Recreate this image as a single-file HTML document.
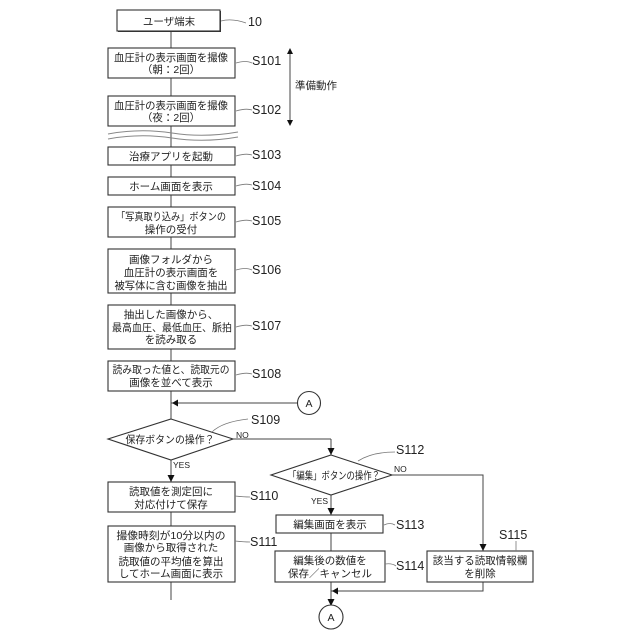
<!DOCTYPE html>
<html>
<head>
<meta charset="utf-8">
<style>
html,body{margin:0;padding:0;background:#fff}
svg{display:block;filter:blur(0.25px)}
text{font-family:"Liberation Sans","Noto Sans CJK JP",sans-serif;fill:#222}
.j{font-size:10.5px;text-anchor:middle}
.s{font-size:12.5px}
.y{font-size:8.5px}
.b{fill:#fff;stroke:#333;stroke-width:1.1}
.l{fill:none;stroke:#444;stroke-width:1}
.t{fill:none;stroke:#777;stroke-width:.8}
.h{fill:#111;stroke:none}
</style>
</head>
<body>
<svg width="640" height="640" viewBox="0 0 640 640" xmlns="http://www.w3.org/2000/svg">
<rect width="640" height="640" fill="#fff"/>

<path class="l" d="M171 31V600M331 439V455M331 495V515M331 533V551M331 582V606M233 439H331M392 475H483V551"/>
<path class="l" d="M483 582V591H331M171 403H298"/>
<path class="l" d="M290 50V124"/>

<path class="h" d="M290 48l-3 6h6zM290 126l-3-6h6z"/>
<path class="h" d="M172 403l6-3.500v7zM171 482l-3.500-7h7zM331 455l-3.500-7h7zM331 515l-3.500-7h7zM483 551l-3.500-7h7zM331 606l-3.500-7h7zM332 591l6-3.500v7z"/>

<rect x="118" y="11" width="103" height="21" fill="#333"/>
<rect class="b" x="117" y="10" width="103" height="21"/>
<rect class="b" x="108" y="48" width="127" height="30"/>
<rect class="b" x="108" y="96" width="127" height="30"/>
<rect class="b" x="108" y="147" width="127" height="18"/>
<rect class="b" x="108" y="177" width="127" height="18"/>
<rect class="b" x="108" y="207" width="127" height="30"/>
<rect class="b" x="108" y="249" width="127" height="44"/>
<rect class="b" x="108" y="305" width="127" height="44"/>
<rect class="b" x="108" y="361" width="127" height="30"/>
<rect class="b" x="108" y="482" width="127" height="30"/>
<rect class="b" x="108" y="526" width="127" height="56"/>
<rect class="b" x="276" y="515" width="107" height="18"/>
<rect class="b" x="275" y="551" width="110" height="31"/>
<rect class="b" x="427" y="551" width="106" height="31"/>

<path class="b" d="M171 419L233 439L171 460L108 439Z"/>
<path class="b" d="M331 455L392 475L331 495L271 475Z"/>

<circle class="b" cx="309" cy="403" r="11.500"/>
<circle class="b" cx="331" cy="617" r="12"/>

<path d="M108 134Q140 128 172 133T238 132M108 139Q140 133 172 138T238 137" fill="none" stroke="#888" stroke-width="1"/>

<path class="t" d="M221 21Q232 18 246 23M236 63Q246 60 252 63M236 111Q246 108 252 110M236 156Q246 153 252 155M236 186Q246 183 252 185M236 222Q246 219 252 221M236 270Q246 267 252 270M236 327Q246 324 252 326M236 375Q246 372 252 374M212 432Q222 422 248 419M358 461Q372 452 395 452M235 496Q244 497 250 497M235 541Q244 542 250 542M384 525Q390 522 395 525M385 564Q392 563 396 566M516 551V541"/>

<text class="j" x="169" y="25">ユーザ端末</text>
<text class="j" x="171" y="61" textLength="114" lengthAdjust="spacingAndGlyphs">血圧計の表示画面を撮像</text>
<text class="j" x="171" y="73">（朝：2回）</text>
<text class="j" x="171" y="109" textLength="114" lengthAdjust="spacingAndGlyphs">血圧計の表示画面を撮像</text>
<text class="j" x="171" y="121">（夜：2回）</text>
<text class="j" x="171" y="160">治療アプリを起動</text>
<text class="j" x="171" y="190">ホーム画面を表示</text>
<text class="j" x="171" y="220" textLength="110" lengthAdjust="spacingAndGlyphs">「写真取り込み」ボタンの</text>
<text class="j" x="171" y="233">操作の受付</text>
<text class="j" x="171" y="263">画像フォルダから</text>
<text class="j" x="171" y="276">血圧計の表示画面を</text>
<text class="j" x="171" y="289" textLength="113" lengthAdjust="spacingAndGlyphs">被写体に含む画像を抽出</text>
<text class="j" x="171" y="318">抽出した画像から、</text>
<text class="j" x="172" y="331" textLength="120" lengthAdjust="spacingAndGlyphs">最高血圧、最低血圧、脈拍</text>
<text class="j" x="171" y="343">を読み取る</text>
<text class="j" x="171" y="373" textLength="117" lengthAdjust="spacingAndGlyphs">読み取った値と、読取元の</text>
<text class="j" x="171" y="386">画像を並べて表示</text>
<text class="j" x="170" y="443" textLength="89" lengthAdjust="spacingAndGlyphs">保存ボタンの操作？</text>
<text class="j" x="171" y="495">読取値を測定回に</text>
<text class="j" x="171" y="508">対応付けて保存</text>
<text class="j" x="171" y="539" textLength="109" lengthAdjust="spacingAndGlyphs">撮像時刻が10分以内の</text>
<text class="j" x="171" y="551">画像から取得された</text>
<text class="j" x="171" y="565">読取値の平均値を算出</text>
<text class="j" x="171" y="577">してホーム画面に表示</text>
<text class="j" x="334" y="479" textLength="92" lengthAdjust="spacingAndGlyphs">「編集」ボタンの操作？</text>
<text class="j" x="330" y="528">編集画面を表示</text>
<text class="j" x="330" y="564">編集後の数値を</text>
<text class="j" x="330" y="577">保存／キャンセル</text>
<text class="j" x="480" y="564">該当する読取情報欄</text>
<text class="j" x="480" y="577">を削除</text>
<text class="j" x="316" y="89">準備動作</text>
<text class="j" x="309" y="407">A</text>
<text class="j" x="331" y="621">A</text>

<text class="s" x="248" y="26">10</text>
<text class="s" x="252" y="65">S101</text>
<text class="s" x="252" y="114">S102</text>
<text class="s" x="252" y="159">S103</text>
<text class="s" x="252" y="190">S104</text>
<text class="s" x="252" y="225">S105</text>
<text class="s" x="252" y="274">S106</text>
<text class="s" x="252" y="330">S107</text>
<text class="s" x="252" y="378">S108</text>
<text class="s" x="251" y="424">S109</text>
<text class="s" x="250" y="500">S110</text>
<text class="s" x="250" y="546">S111</text>
<text class="s" x="396" y="454">S112</text>
<text class="s" x="396" y="529">S113</text>
<text class="s" x="396" y="570">S114</text>
<text class="s" x="499" y="539">S115</text>

<text class="y" x="236" y="438">NO</text>
<text class="y" x="173" y="468">YES</text>
<text class="y" x="394" y="472">NO</text>
<text class="y" x="311" y="504">YES</text>
</svg>
</body>
</html>
